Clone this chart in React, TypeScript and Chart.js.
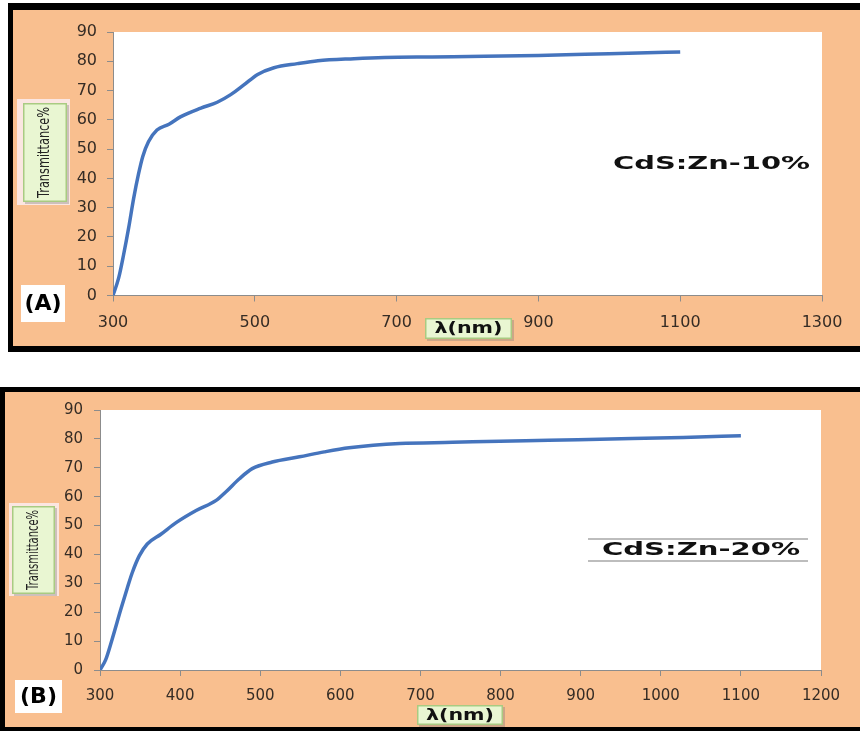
import React, { useEffect, useRef } from "react";
import { Chart, registerables } from "chart.js";

Chart.register(...registerables);

// ---------- data ----------
const wavelengthA = [300, 308, 315, 322, 329, 336, 342, 350, 362, 379, 395, 424, 447, 466, 485, 504, 527, 560, 589, 640, 683, 750, 824, 900, 966, 1040, 1100];
const transmittanceA = [0, 6, 14, 23, 33, 41.5, 47.5, 52.5, 56.5, 58.5, 61, 64, 66, 68.6, 72, 75.5, 77.8, 79.2, 80.2, 80.9, 81.3, 81.5, 81.7, 82, 82.4, 82.8, 83.2];

const wavelengthB = [300, 307, 315, 326, 334, 340, 349, 359, 376, 395, 420, 445, 457, 474, 490, 515, 549, 580, 611, 674, 740, 799, 860, 924, 1028, 1100];
const transmittanceB = [0, 3.5, 10.5, 21, 28.3, 33.5, 39.5, 43.6, 47, 51, 55.2, 58.7, 61.6, 66.2, 69.7, 72, 73.8, 75.5, 76.9, 78.4, 78.8, 79.2, 79.5, 79.9, 80.5, 81.1];

const yTickValues = [0, 10, 20, 30, 40, 50, 60, 70, 80, 90];
const xTickValuesA = [300, 500, 700, 900, 1100, 1300];
const xTickValuesB = [300, 400, 500, 600, 700, 800, 900, 1000, 1100, 1200];

const yTitle = "Transmittance%";
const xTitle = "λ(nm)";
const sampleA = "CdS:Zn-10%";
const sampleB = "CdS:Zn-20%";
const panelTagA = "(A)";
const panelTagB = "(B)";

// ---------- styling ----------
const ORANGE = "#F9BF8F";
const LINE = "#4574BD";
const AXIS = "#8c8c8c";
const TICK_TEXT = "#352c25";

function drawFit(ctx: CanvasRenderingContext2D, text: string, cx: number, cy: number, w: number, font: string, color: string, rot = 0) {
  ctx.save();
  ctx.font = font;
  const m = ctx.measureText(text).width;
  ctx.translate(cx, cy);
  ctx.rotate(rot);
  ctx.scale(w / m, 1);
  ctx.fillStyle = color;
  ctx.textAlign = "center";
  ctx.textBaseline = "middle";
  ctx.fillText(text, 0, 0);
  ctx.restore();
}

function greenBox(ctx: CanvasRenderingContext2D, x: number, y: number, w: number, h: number) {
  ctx.save();
  ctx.fillStyle = "rgba(120,120,120,0.35)";
  ctx.fillRect(x + 2, y + 2, w, h);
  ctx.fillStyle = "#E9F6D2";
  ctx.fillRect(x, y, w, h);
  ctx.strokeStyle = "#A9CB82";
  ctx.lineWidth = 1.5;
  ctx.strokeRect(x + 0.75, y + 0.75, w - 1.5, h - 1.5);
  ctx.restore();
}

type Spec = {
  height: number;
  orange: [number, number, number, number];
  borders: [number, number, number, number][];
  yBoxOuter: [number, number, number, number];
  yBox: [number, number, number, number];
  yTextLen: number;
  xBox: [number, number, number, number];
  xTextW: number;
  tagBox: [number, number, number, number];
  tag: string;
  sample: string;
  sampleX: [number, number];
  sampleY: number;
  sampleLines: boolean;
  padding: { left: number; right: number; top: number; bottom: number };
  wl: number[];
  tr: number[];
  xTicks: number[];
  xMax: number;
  tickFont: number;
  tickPadY: number;
  tickPadX: number;
};

function makeDecor(s: Spec) {
  return {
    id: "decor",
    beforeDraw(chart: any) {
      const ctx: CanvasRenderingContext2D = chart.ctx;
      ctx.save();
      ctx.fillStyle = "#ffffff";
      ctx.fillRect(0, 0, chart.width, chart.height);
      ctx.fillStyle = ORANGE;
      ctx.fillRect(...s.orange);
      ctx.fillStyle = "#000000";
      s.borders.forEach((b) => ctx.fillRect(...b));
      const a = chart.chartArea;
      ctx.fillStyle = "#ffffff";
      ctx.fillRect(a.left, a.top, a.right - a.left, a.bottom - a.top);
      ctx.restore();
    },
    afterDraw(chart: any) {
      const ctx: CanvasRenderingContext2D = chart.ctx;
      ctx.save();
      // y title
      ctx.fillStyle = "#FBE6E1";
      ctx.fillRect(...s.yBoxOuter);
      greenBox(ctx, ...s.yBox);
      drawFit(ctx, yTitle, s.yBox[0] + s.yBox[2] / 2, s.yBox[1] + s.yBox[3] / 2, s.yTextLen, '16px "DejaVu Sans"', "#222", -Math.PI / 2);
      // x title
      greenBox(ctx, ...s.xBox);
      drawFit(ctx, xTitle, s.xBox[0] + s.xBox[2] / 2, s.xBox[1] + s.xBox[3] / 2 + 1, s.xTextW, 'bold 15px "DejaVu Sans"', "#111");
      // panel tag
      ctx.fillStyle = "#ffffff";
      ctx.fillRect(...s.tagBox);
      ctx.font = 'bold 22px "DejaVu Sans"';
      ctx.fillStyle = "#000";
      ctx.textAlign = "center";
      ctx.textBaseline = "middle";
      ctx.fillText(s.tag, s.tagBox[0] + s.tagBox[2] / 2, s.tagBox[1] + s.tagBox[3] / 2 + 1);
      // sample label
      const [x0, x1] = s.sampleX;
      drawFit(ctx, s.sample, (x0 + x1) / 2, s.sampleY, x1 - x0, 'bold 18px "DejaVu Sans"', "#111");
      if (s.sampleLines) {
        ctx.strokeStyle = "#a8a8a8";
        ctx.lineWidth = 1.5;
        ctx.beginPath();
        ctx.moveTo(x0 - 14, s.sampleY - 11);
        ctx.lineTo(x1 + 8, s.sampleY - 11);
        ctx.moveTo(x0 - 14, s.sampleY + 11);
        ctx.lineTo(x1 + 8, s.sampleY + 11);
        ctx.stroke();
      }
      ctx.restore();
    },
  };
}

const specA: Spec = {
  height: 360,
  orange: [13, 10, 847, 336],
  borders: [
    [8, 3, 852, 7],
    [8, 3, 5, 349],
    [8, 346, 852, 6],
  ],
  yBoxOuter: [17, 99, 53, 106],
  yBox: [23, 103, 44, 99],
  yTextLen: 91,
  xBox: [425, 318, 87, 21],
  xTextW: 68,
  tagBox: [21, 285, 44, 37],
  tag: panelTagA,
  sample: sampleA,
  sampleX: [613, 810],
  sampleY: 164,
  sampleLines: false,
  padding: { left: 53, right: 38, top: 32, bottom: 24.5 },
  wl: wavelengthA,
  tr: transmittanceA,
  xTicks: xTickValuesA,
  xMax: 1300,
  tickFont: 16,
  tickPadY: 10,
  tickPadX: 12,
};

const specB: Spec = {
  height: 371,
  orange: [5, 32, 855, 335],
  borders: [
    [0, 27, 860, 5],
    [0, 27, 5, 344],
    [0, 367, 860, 4],
  ],
  yBoxOuter: [9, 143, 50, 93],
  yBox: [12, 146, 43, 88],
  yTextLen: 80,
  xBox: [417, 345, 86, 20],
  xTextW: 68,
  tagBox: [15, 320, 47, 33],
  tag: panelTagB,
  sample: sampleB,
  sampleX: [602, 800],
  sampleY: 190,
  sampleLines: true,
  padding: { left: 40, right: 39, top: 50, bottom: 21 },
  wl: wavelengthB,
  tr: transmittanceB,
  xTicks: xTickValuesB,
  xMax: 1200,
  tickFont: 15,
  tickPadY: 11,
  tickPadX: 11,
};

function Panel({ spec, top }: { spec: Spec; top: number }) {
  const ref = useRef<HTMLCanvasElement>(null);
  useEffect(() => {
    const canvas = ref.current!;
    const chart = new Chart(canvas, {
      type: "line",
      data: {
        datasets: [
          {
            data: spec.wl.map((w, i) => ({ x: w, y: spec.tr[i] })),
            borderColor: LINE,
            borderWidth: 3.5,
            pointRadius: 0,
            fill: false,
            cubicInterpolationMode: "monotone",
          },
        ],
      },
      options: {
        animation: false,
        responsive: false,
        devicePixelRatio: 1,
        layout: { padding: spec.padding },
        plugins: { legend: { display: false }, tooltip: { enabled: false }, title: { display: false } },
        scales: {
          x: {
            type: "linear",
            min: 300,
            max: spec.xMax,
            afterBuildTicks: (sc: any) => {
              sc.ticks = spec.xTicks.map((v) => ({ value: v }));
            },
            afterFit: (sc: any) => {
              sc.height = 40;
            },
            grid: { drawOnChartArea: false, drawTicks: true, tickLength: 6, color: AXIS },
            border: { color: AXIS, width: 1 },
            ticks: {
              autoSkip: false,
              maxRotation: 0,
              padding: spec.tickPadX,
              color: TICK_TEXT,
              font: { family: "DejaVu Sans", size: spec.tickFont },
              callback: (v: any) => String(v),
            },
          },
          y: {
            type: "linear",
            min: 0,
            max: 90,
            afterBuildTicks: (sc: any) => {
              sc.ticks = yTickValues.map((v) => ({ value: v }));
            },
            afterFit: (sc: any) => {
              sc.width = 60;
            },
            grid: { drawOnChartArea: false, drawTicks: true, tickLength: 6, color: AXIS },
            border: { color: AXIS, width: 1 },
            ticks: {
              autoSkip: false,
              padding: spec.tickPadY,
              color: TICK_TEXT,
              font: { family: "DejaVu Sans", size: spec.tickFont },
              callback: (v: any) => String(v),
            },
          },
        },
      },
      plugins: [makeDecor(spec)],
    } as any);
    return () => chart.destroy();
  }, [spec]);
  return (
    <canvas
      ref={ref}
      width={860}
      height={spec.height}
      style={{ position: "absolute", left: 0, top, width: 860, height: spec.height, display: "block" }}
    />
  );
}

export default function App() {
  return (
    <div style={{ position: "absolute", left: 0, top: 0, width: 860, height: 731, background: "#fff", overflow: "hidden" }}>
      <Panel spec={specA} top={0} />
      <Panel spec={specB} top={360} />
    </div>
  );
}
